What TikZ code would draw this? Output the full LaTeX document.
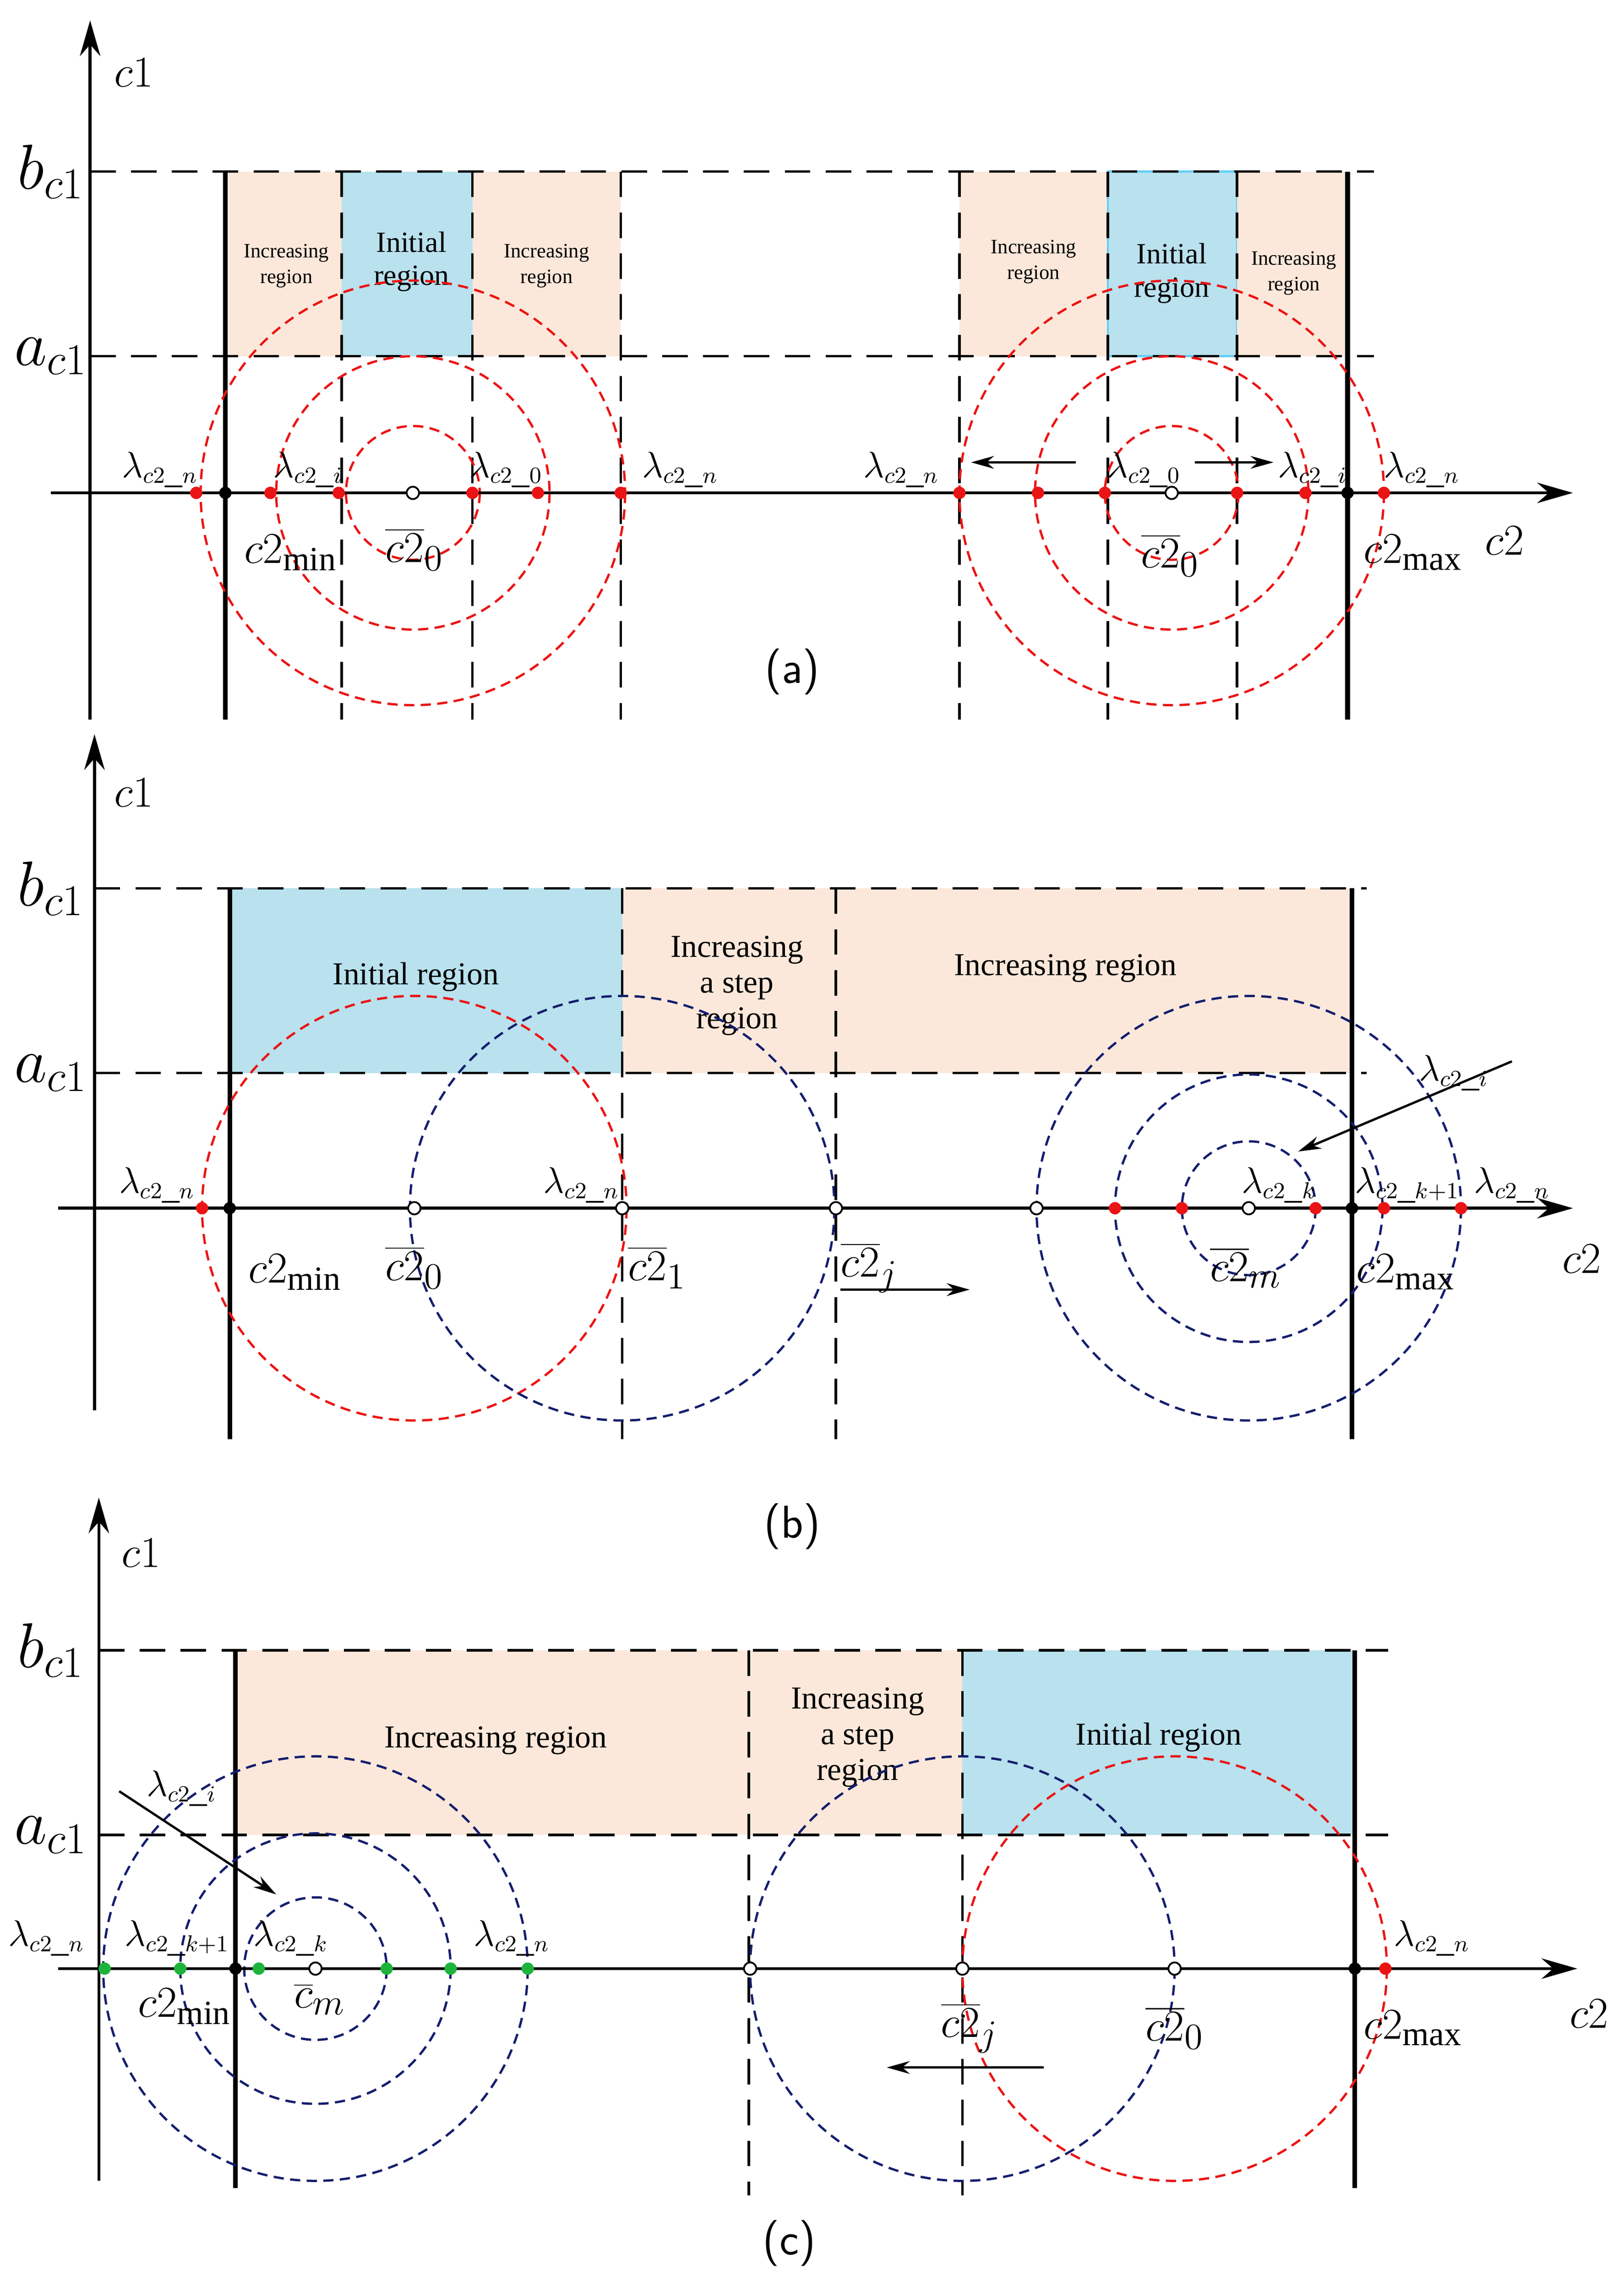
\documentclass[tikz,border=0pt]{standalone}
\usepackage{fontspec}
\setmainfont{Liberation Serif}
\usetikzlibrary{arrows.meta}
\definecolor{blu}{RGB}{185,225,238}
\definecolor{pch}{RGB}{252,232,218}
\definecolor{rd}{RGB}{235,20,20}
\definecolor{nv}{RGB}{20,30,110}
\definecolor{gr}{RGB}{30,180,60}
\tikzset{
 ax/.style={line width=1.2pt,-{Stealth[length=14pt,width=8pt]}},
 hd/.style={line width=1pt,dash pattern=on 10pt off 6pt},
 sv/.style={line width=1.8pt},
 rc/.style={rd,line width=0.9pt,dash pattern=on 4pt off 2.5pt},
 bc/.style={nv,line width=0.9pt,dash pattern=on 4pt off 2.5pt},
 ini/.style={fill=blu},
 inc/.style={fill=pch},
 rdot/.style={circle,fill=rd,inner sep=0,minimum size=0.17cm},
 kdot/.style={circle,fill=black,inner sep=0,minimum size=0.17cm},
 gdot/.style={circle,fill=gr,inner sep=0,minimum size=0.17cm},
 odot/.style={circle,draw,fill=white,line width=0.7pt,inner sep=0,minimum size=0.17cm},
 lam/.style={font=\fontsize{13.5}{13.5}\selectfont,inner sep=1pt},
 big/.style={font=\fontsize{26}{26}\selectfont},
 mid/.style={font=\fontsize{19}{19}\selectfont},
 rtxt/.style={align=center,font=\fontsize{12.5}{14}\selectfont},
 stxt/.style={align=center,font=\fontsize{8}{10}\selectfont},
 atxt/.style={align=center,font=\fontsize{11.5}{13}\selectfont},
 arr/.style={line width=0.9pt,-{Stealth[length=9pt,width=5pt]}},
 captxt/.style={font=\sffamily\fontsize{18}{18}\selectfont}
}
\newcommand{\lamn}{\lambda_{c2\_n}}
\begin{document}
\begin{tikzpicture}[x=0.02cm,y=-0.02cm]
\useasboundingbox (0,0) rectangle (1117,1573);
%================ (a)
\fill[inc] (155,118) rectangle (235,245);
\fill[ini] (235,118) rectangle (325,245);
\fill[inc] (325,118) rectangle (427,245);
\fill[inc] (660,118) rectangle (762,245);
\fill[ini] (762,118) rectangle (851,245);
\draw[cyan!60,line width=0.8pt] (762,118) rectangle (851,245);
\fill[inc] (851,118) rectangle (927,245);
\node[stxt] (a1) at (197,183) {Increasing\\region};
\node[atxt] (a2) at (283,180) {Initial\\region};
\node[stxt] (a3) at (376,183) {Increasing\\region};
\node[stxt] (a4) at (711,180) {Increasing\\region};
\node[atxt] (a5) at (806,188) {Initial\\region};
\node[stxt] (a6) at (890,188) {Increasing\\region};
\draw[hd] (62,118) -- (945,118);
\draw[hd] (62,245) -- (945,245);
\foreach \x in {235,325,427,660,762,851} \draw[hd] (\x,118) -- (\x,495);
\draw[sv] (155,118) -- (155,495);
\draw[sv] (927,118) -- (927,495);
\foreach \r in {46,94,146} {\draw[rc] (284,339) circle (\r); \draw[rc] (806,339) circle (\r);}
\coordinate (ay0) at (62,495); \coordinate (ay1) at (62,14);
\coordinate (ax0) at (35,339); \coordinate (ax1) at (1082,339);
\draw[ax] (ay0) -- (ay1);
\draw[ax] (ax0) -- (ax1);
\node[mid] (ac1) at (92,50) {$c1$};
\node[big] (ab) at (35,118) {$b_{c1}$};
\node[big] (aa) at (35,245) {$a_{c1}$};
\node[mid] (ac2) at (1035,372) {$c2$};
\foreach \x [count=\i] in {135,186,233,325,370,427,660,714,760,851,898,952} \node[rdot] (ar\i) at (\x,339) {};
\node[kdot] (ak1) at (155,339) {};
\node[kdot] (ak2) at (927,339) {};
\node[odot] (ao1) at (284,339) {};
\node[odot] (ao2) at (806,339) {};
\node[lam] at (110,323) {$\lamn$};
\node[lam] at (212,323) {$\lambda_{c2\_i}$};
\node[lam] at (348,323) {$\lambda_{c2\_0}$};
\node[lam] at (468,323) {$\lamn$};
\node[lam] at (620,323) {$\lamn$};
\node[lam] at (787,323) {$\lambda_{c2\_0}$};
\node[lam] at (903,323) {$\lambda_{c2\_i}$};
\node[lam] at (978,323) {$\lamn$};
\node[mid] at (200,380) {$c2_{\mathrm{min}}$};
\node[mid] at (285,378) {$\overline{c2}_0$};
\node[mid] at (805,382) {$\overline{c2}_0$};
\node[mid] at (972,380) {$c2_{\mathrm{max}}$};
\coordinate (aa1) at (740,318); \coordinate (aa2) at (668,318);
\coordinate (aa3) at (822,318); \coordinate (aa4) at (876,318);
\draw[arr] (aa1) -- (aa2); \draw[arr] (aa3) -- (aa4);
\node[captxt] at (545,462) {(a)};
%================ (b)
\fill[ini] (158,611) rectangle (428,738);
\fill[inc] (428,611) rectangle (575,738);
\fill[inc] (575,611) rectangle (930,738);
\node[rtxt] (b1) at (286,672) {Initial region};
\node[rtxt] (b2) at (507,678) {Increasing\\a step\\region};
\node[rtxt] (b3) at (733,666) {Increasing region};
\draw[hd] (65,611) -- (940,611);
\draw[hd] (65,738) -- (940,738);
\foreach \x in {428,575} \draw[hd] (\x,611) -- (\x,990);
\draw[sv] (158,611) -- (158,990);
\draw[sv] (930,611) -- (930,990);
\draw[rc] (285,831) circle (146);
\draw[bc] (428,831) circle (146);
\foreach \r in {46,92,146} \draw[bc] (859,831) circle (\r);
\coordinate (by0) at (65,970); \coordinate (by1) at (65,505);
\coordinate (bx0) at (40,831); \coordinate (bx1) at (1082,831);
\draw[ax] (by0) -- (by1);
\draw[ax] (bx0) -- (bx1);
\node[mid] at (92,545) {$c1$};
\node[big] at (35,611) {$b_{c1}$};
\node[big] at (35,738) {$a_{c1}$};
\node[mid] at (1088,866) {$c2$};
\foreach \x [count=\i] in {139,767,813,905,952,1005} \node[rdot] (br\i) at (\x,831) {};
\node[kdot] (bk1) at (158,831) {};
\node[kdot] (bk2) at (930,831) {};
\foreach \x [count=\i] in {285,428,575,713,859} \node[odot] (bo\i) at (\x,831) {};
\node[lam] at (108,815) {$\lamn$};
\node[lam] at (400,815) {$\lamn$};
\node[lam] at (880,815) {$\lambda_{c2\_k}$};
\node[lam] at (968,815) {$\lambda_{c2\_k+1}$};
\node[lam] at (1040,815) {$\lamn$};
\node[lam] at (1000,738) {$\lambda_{c2\_i}$};
\node[mid] at (203,875) {$c2_{\mathrm{min}}$};
\node[mid] at (285,872) {$\overline{c2}_0$};
\node[mid] at (452,872) {$\overline{c2}_1$};
\node[mid] at (598,872) {$\overline{c2}_j$};
\node[mid] at (857,872) {$\overline{c2}_m$};
\node[mid] at (967,875) {$c2_{\mathrm{max}}$};
\coordinate (ba1) at (578,887); \coordinate (ba2) at (667,887);
\coordinate (ba3) at (1040,730); \coordinate (ba4) at (893,792);
\draw[arr] (ba1) -- (ba2); \draw[arr] (ba3) -- (ba4);
\node[captxt] at (545,1050) {(b)};
%================ (c)
\fill[inc] (162,1135) rectangle (515,1262);
\fill[inc] (515,1135) rectangle (662,1262);
\fill[ini] (662,1135) rectangle (932,1262);
\node[rtxt] (c1) at (341,1197) {Increasing region};
\node[rtxt] (c2) at (590,1195) {Increasing\\a step\\region};
\node[rtxt] (c3) at (797,1195) {Initial region};
\draw[hd] (68,1135) -- (955,1135);
\draw[hd] (68,1262) -- (955,1262);
\foreach \x in {515,662} \draw[hd] (\x,1135) -- (\x,1510);
\draw[sv] (162,1135) -- (162,1505);
\draw[sv] (932,1135) -- (932,1505);
\foreach \r in {49,93,146} \draw[bc] (217,1354) circle (\r);
\draw[bc] (662,1354) circle (146);
\draw[rc] (808,1354) circle (146);
\coordinate (cy0) at (68,1500); \coordinate (cy1) at (68,1030);
\coordinate (cx0) at (40,1354); \coordinate (cx1) at (1085,1354);
\draw[ax] (cy0) -- (cy1);
\draw[ax] (cx0) -- (cx1);
\node[mid] at (97,1068) {$c1$};
\node[big] at (35,1135) {$b_{c1}$};
\node[big] at (35,1262) {$a_{c1}$};
\node[mid] at (1093,1385) {$c2$};
\foreach \x [count=\i] in {72,124,178,266,310,363} \node[gdot] (cg\i) at (\x,1354) {};
\node[kdot] (ck1) at (162,1354) {};
\node[kdot] (ck2) at (932,1354) {};
\node[rdot] (cr1) at (953,1354) {};
\foreach \x [count=\i] in {217,516,662,808} \node[odot] (co\i) at (\x,1354) {};
\node[lam] at (32,1333) {$\lamn$};
\node[lam] at (122,1333) {$\lambda_{c2\_k+1}$};
\node[lam] at (200,1333) {$\lambda_{c2\_k}$};
\node[lam] at (352,1333) {$\lamn$};
\node[lam] at (125,1230) {$\lambda_{c2\_i}$};
\node[lam] at (985,1333) {$\lamn$};
\node[mid] at (127,1380) {$c2_{\mathrm{min}}$};
\node[mid] at (220,1375) {$\overline{c}_m$};
\node[mid] at (667,1395) {$\overline{c2}_j$};
\node[mid] at (808,1395) {$\overline{c2}_0$};
\node[mid] at (972,1395) {$c2_{\mathrm{max}}$};
\coordinate (ca1) at (82,1232); \coordinate (ca2) at (190,1303);
\coordinate (ca3) at (718,1422); \coordinate (ca4) at (610,1422);
\draw[arr] (ca1) -- (ca2); \draw[arr] (ca3) -- (ca4);
\node[captxt] at (543,1543) {(c)};
\end{tikzpicture}
\end{document}
